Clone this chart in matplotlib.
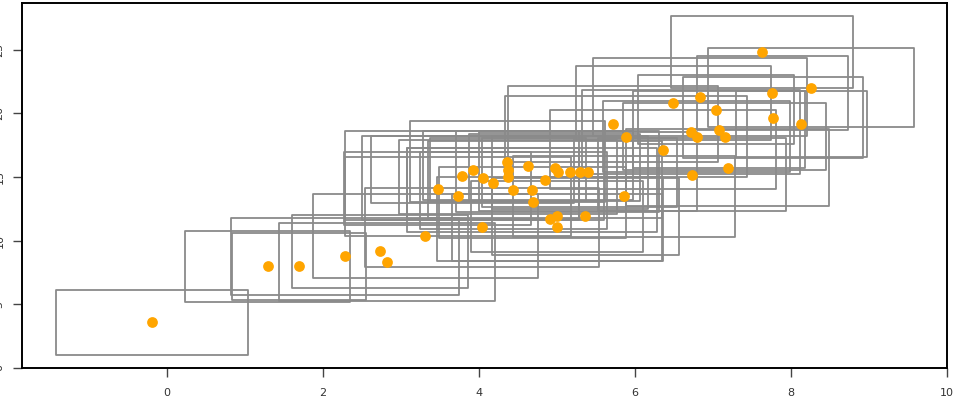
import numpy as np
import matplotlib
matplotlib.use("Agg")
import matplotlib.pyplot as plt
from matplotlib.patches import Rectangle
from matplotlib.collections import PatchCollection

# point centres
x = [-0.19, 1.29, 1.69, 2.28, 2.73, 2.82, 3.31, 3.47, 3.73, 3.78,
     3.92, 4.05, 4.18, 4.04, 4.36, 4.37, 4.37, 4.44, 4.63, 4.68,
     4.69, 4.85, 4.97, 5.01, 5.17, 5.29, 5.40, 4.91, 5.00, 5.00,
     5.36, 5.72, 5.88, 5.86, 6.49, 6.83, 7.04, 6.72, 6.79, 7.08,
     7.15, 6.36, 6.73, 7.19, 7.63, 7.76, 7.77, 8.26, 8.13]
y = [3.60, 7.99, 7.99, 8.77, 9.16, 8.30, 10.34, 14.09, 13.47, 15.11,
     15.58, 14.95, 14.49, 11.04, 16.21, 15.58, 15.03, 13.94, 15.89, 13.94,
     13.00, 14.80, 15.74, 15.42, 15.35, 15.35, 15.42, 11.67, 11.90, 11.04,
     11.90, 19.18, 18.17, 13.47, 20.83, 21.30, 20.28, 18.56, 18.17, 18.71,
     18.17, 17.15, 15.19, 15.74, 24.82, 21.61, 19.65, 22.00, 19.18]

# half sizes of the error boxes
xerr = [1.23, 1.06, 0.86, 1.46, 1.13, 1.38, 1.44, 1.20, 1.45, 1.50,
        1.30, 1.55, 1.10, 1.50, 1.25, 1.00, 1.40, 1.20, 1.35, 1.60,
        1.20, 1.50, 1.10, 1.30, 1.00, 1.25, 1.40, 1.45, 1.10, 1.35,
        1.20, 1.35, 1.55, 1.42, 1.25, 1.37, 1.00, 1.40, 1.20, 1.10,
        1.30, 1.45, 1.20, 1.30, 1.17, 0.97, 1.15, 1.32, 0.84]
yerr = [2.55, 2.78, 2.62, 3.00, 2.86, 3.05, 3.30, 2.90, 3.10, 3.50,
        2.60, 3.30, 2.80, 3.10, 3.20, 2.50, 2.90, 3.00, 2.70, 3.30,
        2.80, 3.00, 2.60, 3.20, 2.90, 2.70, 3.10, 3.30, 2.80, 2.60,
        3.00, 3.00, 3.20, 3.20, 2.90, 3.05, 2.70, 3.30, 2.80, 3.00,
        2.60, 3.10, 2.90, 3.00, 2.80, 2.90, 3.20, 3.10, 2.60]

fig = plt.figure(figsize=(9.59, 3.98), dpi=100)
ax = fig.add_axes([0.0229, 0.0754, 0.9646, 0.9171])

boxes = [Rectangle((xi - xe, yi - ye), 2 * xe, 2 * ye)
         for xi, yi, xe, ye in zip(x, y, xerr, yerr)]
pc = PatchCollection(boxes, facecolor='none', edgecolor='#8a8a8a', linewidth=1.3)
ax.add_collection(pc)

ax.scatter(x, y, s=60, color='orange', zorder=3, linewidths=0)

ax.set_xlim(-1.86, 10)
ax.set_ylim(0, 28.66)
ax.set_xticks(np.arange(0, 11, 2))
ax.set_yticks(np.arange(0, 26, 5))

for s in ax.spines.values():
    s.set_linewidth(1.4)
ax.tick_params(axis='both', length=6.5, width=1, color='#444444', labelsize=8, labelcolor='#333333')
ax.tick_params(axis='x', pad=8)
ax.tick_params(axis='y', pad=6, labelrotation=90)
for lab in ax.get_yticklabels():
    lab.set_va('center')

fig.savefig('out.png', dpi=100)
